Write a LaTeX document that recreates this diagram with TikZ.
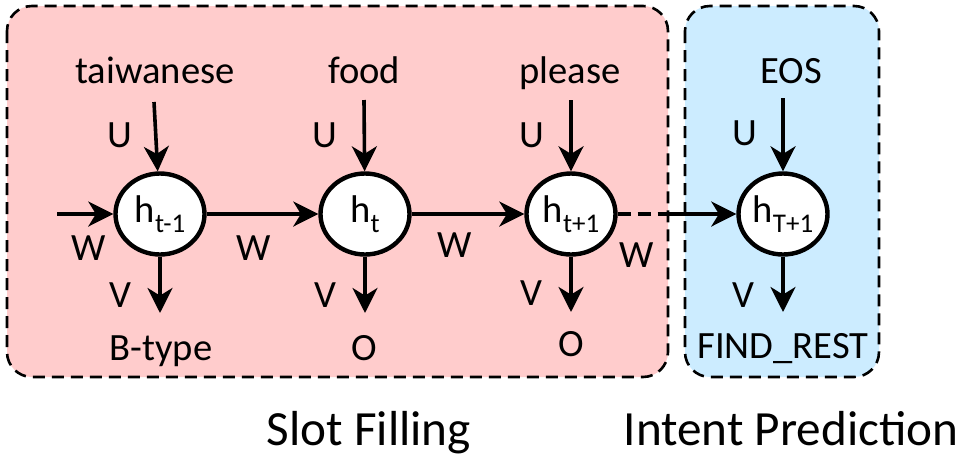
\documentclass[tikz,border=0pt]{standalone}
\usepackage{fontspec}
\setmainfont{Carlito}
\usetikzlibrary{arrows.meta,shapes.geometric}
\definecolor{slotpink}{HTML}{FFCCCC}
\definecolor{intentblue}{HTML}{CCECFF}
% hidden state label with a lowered, smaller index
\newcommand\hstate[1]{h\raisebox{-5pt}{\fontsize{13.5}{14}\selectfont #1}}

\begin{document}
\begin{tikzpicture}[x=0.5pt,y=-0.5pt,
  lbl/.style={font=\fontsize{19.3}{22}\selectfont, inner sep=0pt},
  word/.style={lbl, anchor=base},
  title/.style={font=\fontsize{24.6}{28}\selectfont, inner sep=0pt, anchor=base},
  state/.style={ellipse, draw, line width=2.2pt, fill=white,
    minimum width=44.5pt, minimum height=40.5pt, inner sep=0pt,
    font=\fontsize{19.3}{22}\selectfont},
  arr/.style={line width=1.8pt, -{Stealth[length=12.5pt,width=12.5pt,inset=3.8pt]}},
  dashedlink/.style={line width=1.8pt, dash pattern=on 6.5pt off 3.5pt},
  panel/.style={draw, line width=1.3pt, dash pattern=on 6pt off 3.5pt,
    rounded corners=12.5pt}]

% canvas
\fill[white] (0,0) rectangle (965,456);
\useasboundingbox (0,0) rectangle (965,456);

% the two task panels
\path[panel, fill=slotpink] (7,6) rectangle (668,377);
\path[panel, fill=intentblue] (685,6) rectangle (879,377);

% hidden states
\node[state] (h1) at (160,214) {\hstate{t-1}};
\node[state] (h2) at (365,214) {\hstate{t}};
\node[state] (h3) at (571,214) {\hstate{t+1}};
\node[state] (h4) at (783,214) {\hstate{T+1}};

% input words
\node[word] (w1) at (155,83) {taiwanese};
\node[word] (w2) at (364,83) {food};
\node[word] (w3) at (570,83) {please};
\node[word] (w4) at (791,83) {EOS};

% output tags
\node[word] (o1) at (161,360) {B-type};
\node[word] (o2) at (364,360) {O};
\node[word] (o3) at (571,356) {O};
\node[word] (o4) at (783,358) {FIND\_REST};

% arrow end points
\coordinate (in0) at (57,214);
\coordinate (gap) at (668,214);
\coordinate (u1) at (154,102);
\coordinate (u2) at (364,100);
\coordinate (u3) at (571,100);
\coordinate (u4) at (783,98);
\coordinate (v1) at (160,313);
\coordinate (v2) at (365,313);
\coordinate (v3) at (571,312);
\coordinate (v4) at (783,312);

% input weights U
\draw[arr] (u1) -- (h1);
\draw[arr] (u2) -- (h2);
\draw[arr] (u3) -- (h3);
\draw[arr] (u4) -- (h4);

% output weights V
\draw[arr] (h1) -- (v1);
\draw[arr] (h2) -- (v2);
\draw[arr] (h3) -- (v3);
\draw[arr] (h4) -- (v4);

% recurrent weights W
\draw[arr] (in0) -- (h1);
\draw[arr] (h1) -- (h2);
\draw[arr] (h2) -- (h3);
\draw[dashedlink] (h3) -- (gap);
\draw[arr] (gap) -- (h4);

% weight labels
\node[lbl] (lu1) at (120,135) {U};
\node[lbl] (lu2) at (325,135) {U};
\node[lbl] (lu3) at (532,135) {U};
\node[lbl] (lu4) at (745,133) {U};
\node[lbl] (lv1) at (120,295) {V};
\node[lbl] (lv2) at (325,295) {V};
\node[lbl] (lv3) at (531,293) {V};
\node[lbl] (lv4) at (743,295) {V};
\node[lbl] (lw1) at (89,248) {W};
\node[lbl] (lw2) at (254,248) {W};
\node[lbl] (lw3) at (455,245) {W};
\node[lbl] (lw4) at (637,255) {W};

% panel captions
\node[title] (slot) at (369,445) {Slot Filling};
\node[title] (intent) at (791,445) {Intent Prediction};
\end{tikzpicture}
\end{document}
